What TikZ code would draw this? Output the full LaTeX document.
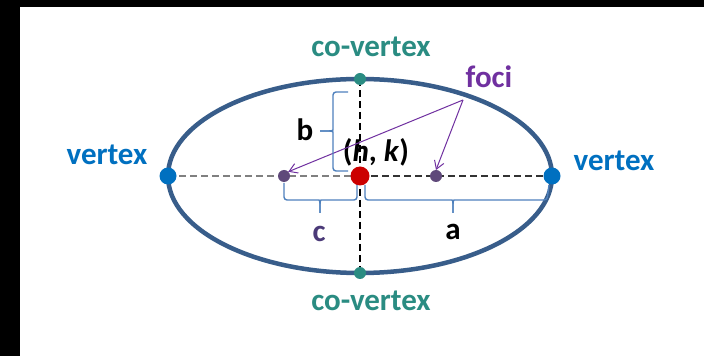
\documentclass[tikz,border=0pt]{standalone}
\usepackage{fontspec}
\setmainfont{Carlito}
\usetikzlibrary{calc, arrows.meta}

\definecolor{ellipseColour}{HTML}{385D8A}
\definecolor{vertexColour}{HTML}{0070C0}
\definecolor{coVertexColour}{HTML}{2A8C82}
\definecolor{fociColour}{HTML}{7030A0}
\definecolor{focusDotColour}{HTML}{5F497A}
\definecolor{centreColour}{HTML}{CC0000}
\definecolor{braceColour}{HTML}{4F81BD}
\definecolor{cColour}{HTML}{4B3A78}

\tikzset{
    dot/.style={circle, inner sep=0pt, outer sep=0pt},
    lbl/.style={inner sep=1pt, font=\bfseries\fontsize{31}{36}\selectfont},
    bracepath/.style={draw=braceColour, line width=1.4pt, rounded corners=3pt},
}

\begin{document}
\begin{tikzpicture}[x=1pt, y=1pt]

    % Frame
    \fill[black] (0,0) rectangle (704,356);
    \fill[white] (20,0) rectangle (704,349);
    \useasboundingbox (0,0) rectangle (704,356);

    % Define the semi axes and focal distance
    \def\semiA{192}
    \def\semiB{97}
    \def\focal{76}
    \coordinate (O) at (360,180);

    % Draw the ellipse
    \draw[line width=4.5pt, ellipseColour] (O) ellipse [x radius=\semiA, y radius=\semiB];

    % Define the points
    \coordinate (V1pos) at ($(O)+(-\semiA,0)$);
    \coordinate (V2pos) at ($(O)+(\semiA,0)$);
    \coordinate (W1pos) at ($(O)+(0,\semiB)$);
    \coordinate (W2pos) at ($(O)+(0,-\semiB)$);

    % Draw the axes
    \draw[line width=2.2pt, gray, dash pattern=on 7pt off 4pt] (V1pos) -- (O);
    \draw[line width=1.5pt, black!80, dash pattern=on 7pt off 4pt] (O) -- (V2pos);
    \draw[line width=1.4pt, black, dash pattern=on 7pt off 4pt] (W1pos) -- (W2pos);

    % Draw the dots
    \node[dot, fill=vertexColour, minimum size=17pt] (V1) at (V1pos) {};
    \node[dot, fill=vertexColour, minimum size=17pt] (V2) at (V2pos) {};
    \node[dot, fill=coVertexColour, minimum size=12pt] (W1) at (W1pos) {};
    \node[dot, fill=coVertexColour, minimum size=12pt] (W2) at (W2pos) {};
    \node[dot, fill=focusDotColour, minimum size=12pt] (F1) at ($(O)+(-\focal,0)$) {};
    \node[dot, fill=focusDotColour, minimum size=12pt] (F2) at ($(O)+(\focal,0)$) {};
    \node[dot, fill=centreColour, minimum size=19pt] (C) at (O) {};

    % Labels
    \node[lbl, text=vertexColour] (V1label) at (107,201) {vertex};
    \node[lbl, text=vertexColour] (V2label) at (614,195) {vertex};
    \node[lbl, text=coVertexColour] (W1label) at (371,309) {co-vertex};
    \node[lbl, text=coVertexColour] (W2label) at (371,55) {co-vertex};
    \node[lbl, text=fociColour] (Flabel) at (489,279) {foci};
    \node[lbl] (Clabel) at (376,204) {(\textit{h}, \textit{k})};

    % Foci arrows
    \coordinate (fociTip) at (463,256);
    \draw[fociColour, line width=1pt, -{Straight Barb[length=8pt, width=10pt]}] (fociTip) -- (F1.north east);
    \draw[fociColour, line width=1pt, -{Straight Barb[length=8pt, width=10pt]}] (fociTip) -- (F2.north);

    % Brace b
    \draw[bracepath] (348,264) -- (333,264) -- (333,229) .. controls (333,225) .. (320,225);
    \draw[bracepath] (348,185) -- (333,185) -- (333,221) .. controls (333,225) .. (320,225);

    % Brace c
    \draw[bracepath] ($(F1)+(0,-7)$) -- (284,156) -- (316,156) .. controls (320,156) .. (320,143);
    \draw[bracepath] ($(C)+(-3,-9)$) -- (357,156) -- (324,156) .. controls (320,156) .. (320,143);

    % Brace a
    \draw[bracepath] (365,171) -- (365,156) -- (449,156) .. controls (453,156) .. (453,143);
    \draw[bracepath] ($(V2)+(-3,-9)$) -- (547,156) -- (457,156) .. controls (453,156) .. (453,143);

    % Brace labels
    \node[lbl] (blabel) at (305,226) {b};
    \node[lbl, text=cColour] (clabel) at (319,122) {c};
    \node[lbl] (alabel) at (453,124) {a};

\end{tikzpicture}
\end{document}
